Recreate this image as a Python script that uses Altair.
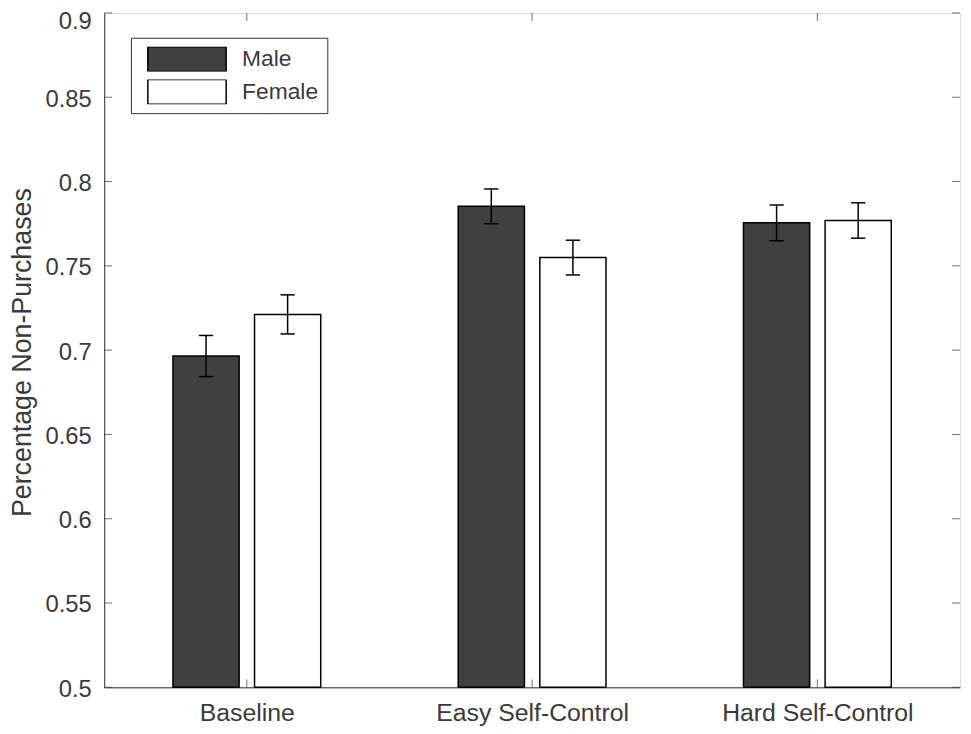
import altair as alt
import pandas as pd

categories = ["Baseline", "Easy Self-Control", "Hard Self-Control"]
groups = ["Male", "Female"]
male = [0.6965, 0.7853, 0.7755]
female = [0.7212, 0.7549, 0.7769]
male_err = [0.0122, 0.0103, 0.0106]
female_err = [0.0116, 0.0103, 0.0105]
y_ticks = [0.5, 0.55, 0.6, 0.65, 0.7, 0.75, 0.8, 0.85, 0.9]
x_ticks = [1, 2, 3]

OFFSET = 0.143
HALF_W = 0.116
CAP = 0.025

rows = []
for i, cat in enumerate(categories):
    for g, vals, errs, sign in (("Male", male, male_err, -1), ("Female", female, female_err, 1)):
        c = i + 1 + sign * OFFSET
        rows.append(dict(category=cat, gender=g, value=vals[i], err=errs[i],
                         lo=vals[i] - errs[i], hi=vals[i] + errs[i],
                         xc=c, x0=c - HALF_W, x1=c + HALF_W, c0=c - CAP, c1=c + CAP))
df = pd.DataFrame(rows)
yt = pd.DataFrame({"t": y_ticks})
xt = pd.DataFrame({"t": x_ticks})

AX = "#333333"
TXT = "#3a3a3a"
FONT = "Liberation Sans"

label_expr = "datum.value == 1 ? '%s' : datum.value == 2 ? '%s' : '%s'" % tuple(categories)

xscale = alt.Scale(domain=[0.5, 3.5], nice=False, zero=False)
yscale = alt.Scale(domain=[0.5, 0.9], nice=False, zero=False)

x_axis = alt.Axis(values=x_ticks, labelExpr=label_expr, title=None, grid=False, ticks=False,
                  labelFontSize=25, labelFont=FONT, labelColor=TXT, labelPadding=13,
                  labelLimit=500, labelOverlap=False,
                  domainColor=AX, domainWidth=1)
y_axis = alt.Axis(values=y_ticks, format="~g", title="Percentage Non-Purchases", grid=False,
                  ticks=False, labelFontSize=24, labelFont=FONT, labelColor=TXT, labelPadding=13,
                  labelOffset={"condition": {"test": "datum.value >= 0.899", "value": 9}, "value": 2},
                  titleFontSize=27, titleFont=FONT, titleColor=TXT, titleFontWeight="normal",
                  titleX=-82, titleY=342, titleBaseline="middle", titleAlign="center", titleAngle=270,
                  domainColor=AX, domainWidth=1)

base = alt.Chart(df)

bars = base.mark_rect(stroke="black", strokeWidth=1.5).encode(
    x=alt.X("x0:Q", scale=xscale, axis=x_axis),
    x2="x1:Q",
    y=alt.Y("value:Q", scale=yscale, axis=y_axis),
    y2=alt.datum(0.5),
    fill=alt.Fill("gender:N", scale=alt.Scale(domain=groups, range=["#404040", "#ffffff"]),
                  legend=alt.Legend(
                      title=None, orient="none", legendX=27, legendY=25,
                      symbolType="M-1,-0.316L1,-0.316L1,0.316L-1,0.316Z",
                      symbolSize=6241, clipHeight=25, symbolOffset=7,
                      symbolStrokeColor="black", symbolStrokeWidth=1.5, symbolOpacity=1,
                      labelFontSize=23, labelFont=FONT, labelColor=TXT, labelOffset=15,
                      rowPadding=8, padding=9, strokeColor=AX, fillColor="white",
                  )),
)

err_v = base.mark_rule(color="black", strokeWidth=1.5).encode(
    x="xc:Q", y="lo:Q", y2="hi:Q")
cap_hi = base.mark_rule(color="black", strokeWidth=1.5).encode(
    x="c0:Q", x2="c1:Q", y="hi:Q")
cap_lo = base.mark_rule(color="black", strokeWidth=1.5).encode(
    x="c0:Q", x2="c1:Q", y="lo:Q")

tick_l = alt.Chart(yt).mark_tick(orient="horizontal", size=8, thickness=1, xOffset=4, color=AX).encode(
    x=alt.datum(0.5), y="t:Q")
tick_r = alt.Chart(yt).mark_tick(orient="horizontal", size=8, thickness=1, xOffset=-4, color=AX).encode(
    x=alt.datum(3.5), y="t:Q")
tick_b = alt.Chart(xt).mark_tick(orient="vertical", size=8, thickness=1, yOffset=-4, color=AX).encode(
    x="t:Q", y=alt.datum(0.5))
tick_t = alt.Chart(xt).mark_tick(orient="vertical", size=8, thickness=1, yOffset=4, color=AX).encode(
    x="t:Q", y=alt.datum(0.9))

chart = alt.layer(bars, err_v, cap_hi, cap_lo, tick_l, tick_r, tick_b, tick_t).properties(
    width=863, height=680,
    autosize=alt.AutoSizeParams(type="none"),
    padding={"left": 97, "top": 2, "right": 3, "bottom": 36},
).configure_view(stroke=AX, strokeWidth=1).configure(background="white")

chart.save("out.html", embed_options={"renderer": "svg", "actions": False})
